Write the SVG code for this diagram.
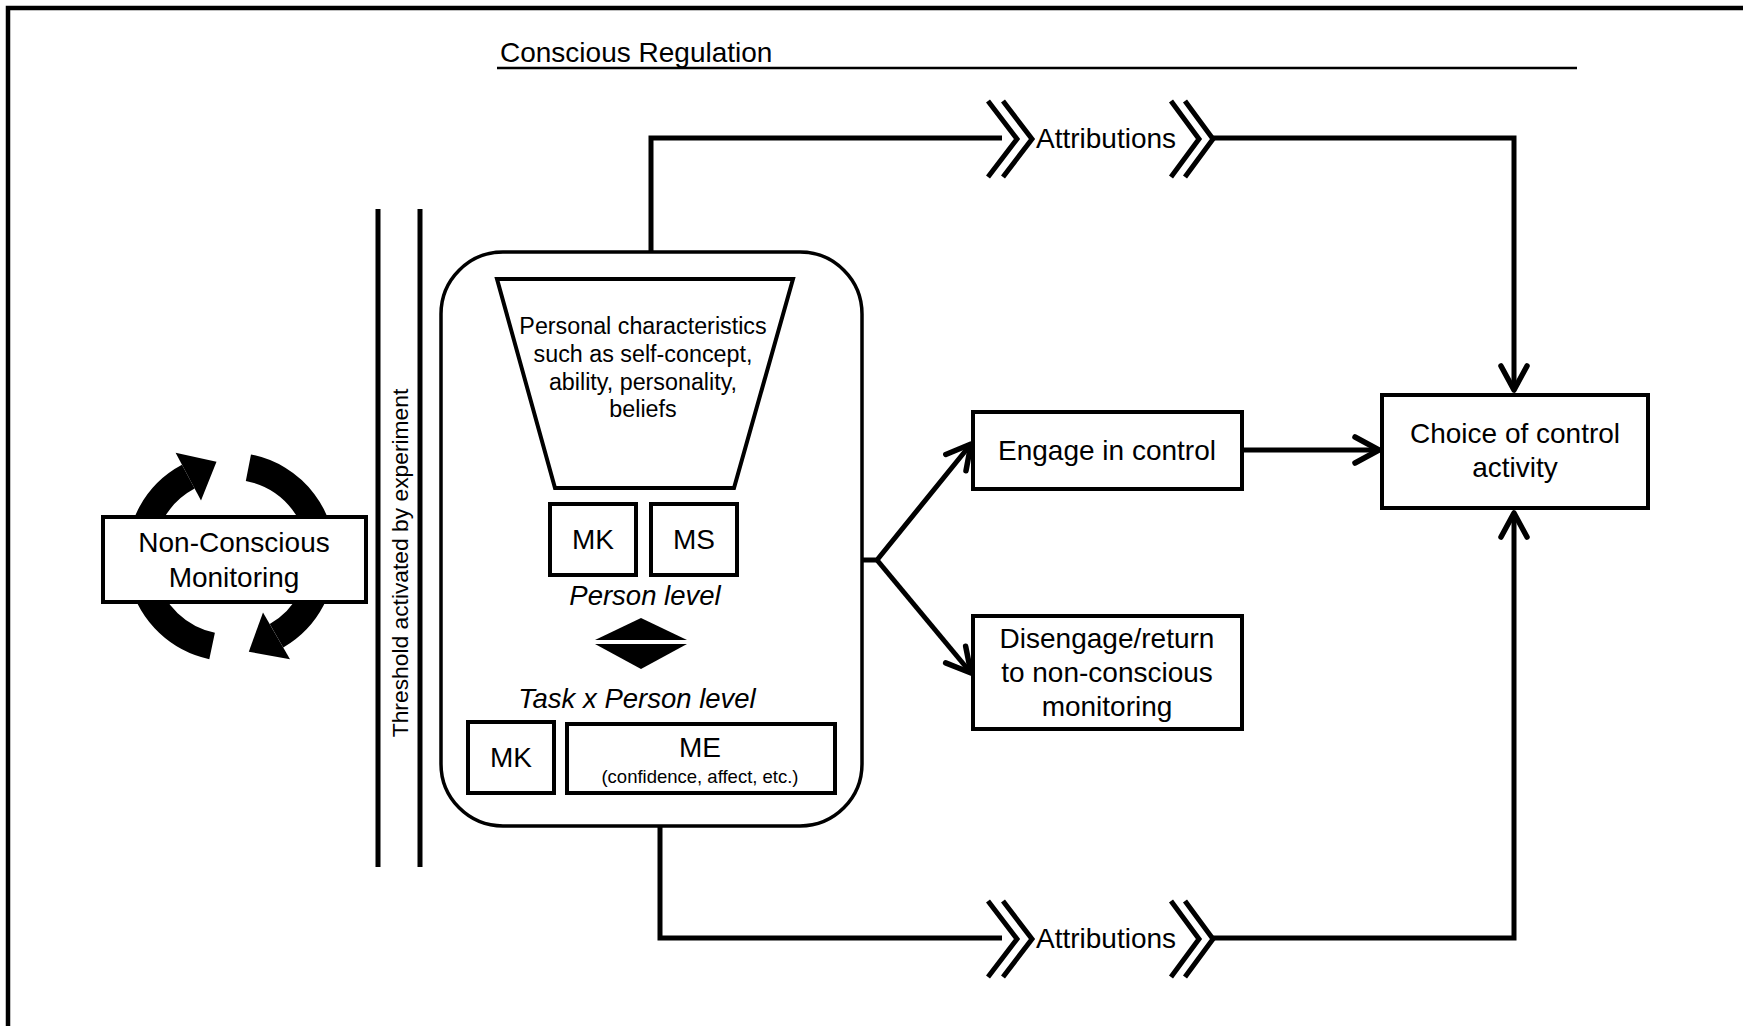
<svg xmlns="http://www.w3.org/2000/svg" width="1743" height="1026" viewBox="0 0 1743 1026">
<defs>
<style>
text{font-family:"Liberation Sans",Arial,sans-serif;fill:#000}
.box{fill:#fff;stroke:#000;stroke-width:4}
.ln{fill:none;stroke:#000;stroke-width:5}
.t27{font-size:28px;text-anchor:middle}
.it{font-style:italic;font-size:27.5px}
.chev{fill:none;stroke:#000;stroke-width:5;stroke-linejoin:miter}
.band{fill:none;stroke:#000;stroke-width:27}
</style>
<marker id="ah" markerUnits="userSpaceOnUse" markerWidth="36" markerHeight="36" viewBox="0 0 36 36" refX="29" refY="17" orient="auto">
<path d="M5,4 L29,17 L5,30" fill="none" stroke="#000" stroke-width="5.5" stroke-linecap="round" stroke-linejoin="round"/>
</marker>
</defs>
<rect width="1743" height="1026" fill="#fff"/>
<path d="M8,1026 V8 H1743" fill="none" stroke="#000" stroke-width="4.5"/>

<g id="title">
<text x="500" y="62" font-size="28">Conscious Regulation</text>
<line x1="497" y1="68" x2="1577" y2="68" stroke="#000" stroke-width="2.5"/>
</g>

<g id="cycle">
<path class="band" d="M140.35,564.9 A91,91 0 0 1 188.3,476.7"/>
<polygon points="175.6,452.8 216.5,461.7 201,500.5"/>
<path class="band" d="M248.4,467.7 A91,91 0 0 1 321.65,564.9"/>
<path class="band" d="M321.65,549.1 A91,91 0 0 1 276.5,635.8"/>
<polygon points="290,659.2 248.8,651.8 263,612.4"/>
<path class="band" d="M212.1,646 A91,91 0 0 1 143.1,580.6"/>
</g>

<g id="non-conscious">
<rect class="box" x="103" y="517" width="263" height="85"/>
<text class="t27" x="234" y="552">Non-Conscious</text>
<text class="t27" x="234" y="587">Monitoring</text>
</g>

<g id="threshold">
<line x1="378" y1="209" x2="378" y2="867" stroke="#000" stroke-width="5"/>
<line x1="420" y1="209" x2="420" y2="867" stroke="#000" stroke-width="5"/>
<text transform="translate(408,563) rotate(-90)" font-size="22.8" text-anchor="middle">Threshold activated by experiment</text>
</g>

<g id="connectors">
<path class="ln" d="M651,251 V138 H1002"/>
<path class="ln" d="M1213,138 H1514 V390" marker-end="url(#ah)"/>
<path class="ln" d="M660,827 V938 H1002"/>
<path class="ln" d="M1213,938 H1514 V513" marker-end="url(#ah)"/>
<path class="ln" d="M1242,450 H1379" marker-end="url(#ah)"/>
<path class="ln" d="M862,560 H877 L971,444" marker-end="url(#ah)"/>
<path class="ln" d="M877,560 L971,673" marker-end="url(#ah)"/>
</g>

<g id="attributions-top">
<polyline class="chev" points="988,101 1017,139 988,177"/>
<polyline class="chev" points="1003,101 1032,139 1003,177"/>
<text x="1106" y="148" font-size="28" text-anchor="middle">Attributions</text>
<polyline class="chev" points="1171,101 1199,139 1171,177"/>
<polyline class="chev" points="1185,101 1213,139 1185,177"/>
</g>

<g id="attributions-bottom">
<polyline class="chev" points="988,901 1017,939 988,977"/>
<polyline class="chev" points="1003,901 1032,939 1003,977"/>
<text x="1106" y="948" font-size="28" text-anchor="middle">Attributions</text>
<polyline class="chev" points="1171,901 1199,939 1171,977"/>
<polyline class="chev" points="1185,901 1213,939 1185,977"/>
</g>

<g id="metacognition">
<rect x="441" y="252" width="421" height="574" rx="62" ry="62" fill="#fff" stroke="#000" stroke-width="3.5"/>
<polygon points="497,279 793,279 734,488 555,488" fill="#fff" stroke="#000" stroke-width="4"/>
<text x="643" y="334" font-size="23.3" text-anchor="middle">Personal characteristics</text>
<text x="643" y="362" font-size="23.3" text-anchor="middle">such as self-concept,</text>
<text x="643" y="390" font-size="23.3" text-anchor="middle">ability, personality,</text>
<text x="643" y="417" font-size="23.3" text-anchor="middle">beliefs</text>
<rect class="box" x="550" y="504" width="86" height="71"/>
<text class="t27" x="593" y="549">MK</text>
<rect class="box" x="651" y="504" width="86" height="71"/>
<text class="t27" x="694" y="549">MS</text>
<text class="t27 it" x="645" y="605">Person level</text>
<polygon points="595,640 641,618 687,640"/>
<polygon points="595,644 687,644 641,669"/>
<text class="t27 it" x="637" y="708">Task x Person level</text>
<rect class="box" x="468" y="722" width="86" height="71"/>
<text class="t27" x="511" y="767">MK</text>
<rect class="box" x="567" y="724" width="268" height="69"/>
<text class="t27" x="700" y="757">ME</text>
<text x="700" y="783" font-size="18.5" text-anchor="middle">(confidence, affect, etc.)</text>
</g>

<g id="engage">
<rect class="box" x="973" y="412" width="269" height="77"/>
<text class="t27" x="1107" y="460">Engage in control</text>
</g>

<g id="disengage">
<rect class="box" x="973" y="616" width="269" height="113"/>
<text class="t27" x="1107" y="648">Disengage/return</text>
<text class="t27" x="1107" y="682">to non-conscious</text>
<text class="t27" x="1107" y="716">monitoring</text>
</g>

<g id="choice">
<rect class="box" x="1382" y="395" width="266" height="113"/>
<text class="t27" x="1515" y="443">Choice of control</text>
<text class="t27" x="1515" y="477">activity</text>
</g>
</svg>
